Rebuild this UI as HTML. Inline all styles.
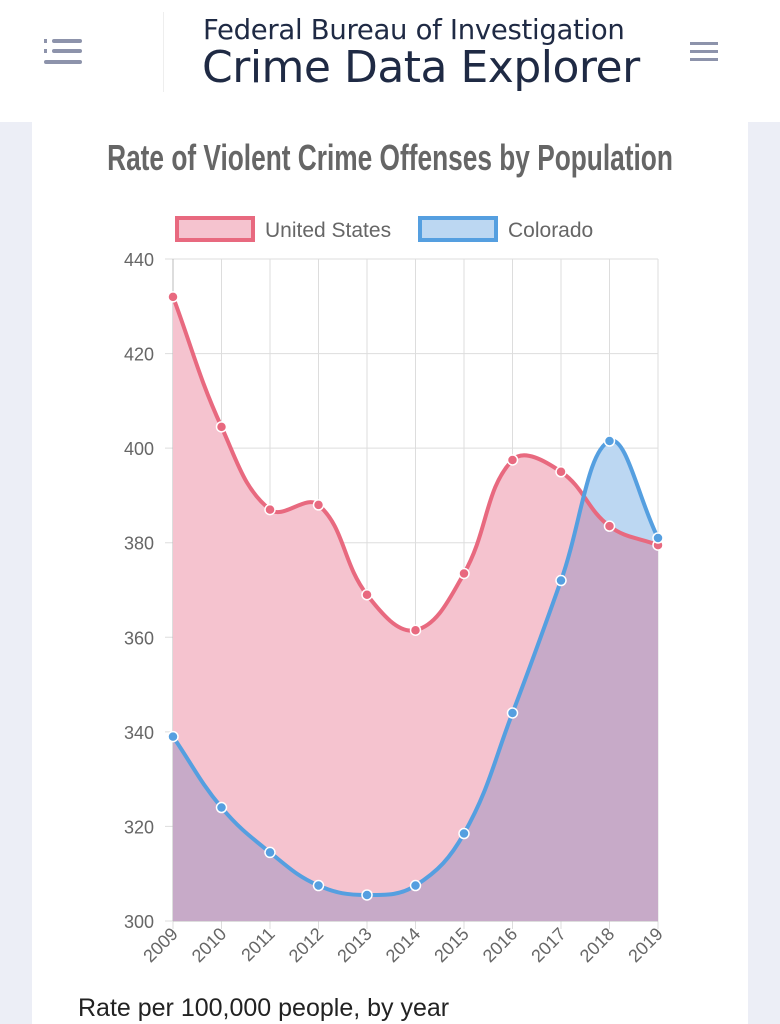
<!DOCTYPE html>
<html><head><meta charset="utf-8"><style>
body{margin:0;width:780px;height:1024px;background:#eceef6;font-family:"Liberation Sans",sans-serif;overflow:hidden;position:relative}
#hdr{position:absolute;left:0;top:0;width:780px;height:122px;background:#fff}
#card{position:absolute;left:32px;top:122px;width:716px;height:902px;background:#fff}
.t1{position:absolute;left:203px;top:14px;font-size:27.5px;color:#1f2a44;font-family:"DejaVu Sans",sans-serif;letter-spacing:-0.3px}
.t2{position:absolute;left:202px;top:42px;font-size:44px;color:#1f2a44;font-family:"DejaVu Sans",sans-serif;letter-spacing:-0.5px}
</style></head><body>
<div id="hdr">
<svg style="position:absolute;left:40px;top:36px" width="50" height="32"><g fill="#8d93ab"><rect x="4" y="3" width="3" height="4"/><rect x="12" y="3" width="30" height="4" rx="2"/><rect x="4" y="13" width="3" height="4"/><rect x="12" y="13" width="30" height="4" rx="2"/><rect x="4" y="24" width="38" height="4" rx="2"/></g></svg>
<div style="position:absolute;left:163px;top:12px;width:1px;height:80px;background:#eee"></div>
<div class="t1">Federal Bureau of Investigation</div>
<div class="t2">Crime Data Explorer</div>
<svg style="position:absolute;left:688px;top:40px" width="34" height="24"><g fill="#8d93ab"><rect x="2" y="2" width="28" height="3"/><rect x="2" y="10" width="28" height="3"/><rect x="2" y="18" width="28" height="3"/></g></svg>
</div>
<div id="card"></div>
<svg id="chart" width="780" height="1024" style="position:absolute;left:0;top:0"></svg>
<div style="position:absolute;left:78px;top:994px;font-size:25px;color:#222">Rate per 100,000 people, by year</div>
<script>
const years=["2009","2010","2011","2012","2013","2014","2015","2016","2017","2018","2019"];
const usValues=[432,404.5,387,388,369,361.5,373.5,397.5,395,383.5,379.5];
const coValues=[339,324,314.5,307.5,305.5,307.5,318.5,344,372,401.5,381];
const yTicks=[300,320,340,360,380,400,420,440];
const NS="http://www.w3.org/2000/svg";
const svg=document.getElementById('chart');
const L=173,R=658,T=259,B=921,yMin=300,yMax=440;
const xs=i=>L+(R-L)*i/(years.length-1);
const ys=v=>B-(v-yMin)/(yMax-yMin)*(B-T);
function mk(tag,attrs,parent){const e=document.createElementNS(NS,tag);for(const k in attrs)e.setAttribute(k,attrs[k]);(parent||svg).appendChild(e);return e;}
let tt=mk('text',{x:390,y:170,'text-anchor':'middle','font-size':36,'font-weight':'bold',fill:'#666',transform:'translate(390,0) scale(0.73,1) translate(-390,0)'});


tt.textContent='Rate of Violent Crime Offenses by Population';
const leg=[["United States","#e8697f","#f5c3cf",177,265],["Colorado","#559fe0","#bcd7f2",420,508]];
leg.forEach(l=>{const g=mk('g',{});


mk('rect',{x:l[3],y:218,width:76,height:22,fill:l[2],stroke:l[1],'stroke-width':4},g);
const t=mk('text',{x:l[4],y:237,'font-size':21,fill:'#666'},g);t.textContent=l[0];});
yTicks.forEach(v=>{const y=ys(v);
const ln=mk('line',{x1:165,x2:R,y1:y,y2:y,stroke:'#ddd','stroke-width':1});


const t=mk('text',{x:154,y:y+7,'text-anchor':'end','font-size':18,fill:'#666'});


t.textContent=v;});
years.forEach((yr,i)=>{const x=xs(i);
const ln=mk('line',{x1:x,x2:x,y1:T,y2:B+8,stroke:'#ddd','stroke-width':1});


const t=mk('text',{x:x+6,y:B+14,'text-anchor':'end','font-size':18,fill:'#666',transform:`rotate(-45 ${x+6} ${B+14})`});


t.textContent=yr;});
mk('line',{x1:L,x2:L,y1:T,y2:B,stroke:'#bbb'});
mk('line',{x1:L,x2:R,y1:B,y2:B,stroke:'#bbb'});
function curve(vals){const p=vals.map((v,i)=>[xs(i),ys(v)]);const t=0.4;let d=`M${p[0][0]},${p[0][1]}`;
const cps=p.map((c,i)=>{const a=p[Math.max(0,i-1)],b=p[Math.min(p.length-1,i+1)];
const d01=Math.hypot(c[0]-a[0],c[1]-a[1]),d12=Math.hypot(b[0]-c[0],b[1]-c[1]);
let fa=d01/(d01+d12)||0,fb=d12/(d01+d12)||0;fa*=t;fb*=t;
return {p:[c[0]-fa*(b[0]-a[0]),c[1]-fa*(b[1]-a[1])],n:[c[0]+fb*(b[0]-a[0]),c[1]+fb*(b[1]-a[1])]};});
for(let i=1;i<p.length;i++){d+=` C${cps[i-1].n[0]},${cps[i-1].n[1]} ${cps[i].p[0]},${cps[i].p[1]} ${p[i][0]},${p[i][1]}`;}return d;}
const usC=curve(usValues),coC=curve(coValues);
const close=` L${R},${B} L${L},${B} Z`;
const defs=mk('defs',{});const cp=mk('clipPath',{id:'usclip'},defs);mk('path',{d:usC+close},cp);
let a=mk('path',{d:coC+close,fill:'#bcd7f2'});


a=mk('path',{d:usC+close,fill:'#f5c3cf'});


mk('path',{d:coC+close,fill:'#c7aac8','clip-path':'url(#usclip)'});
const series=[[usC,usValues,'#e8697f','us'],[coC,coValues,'#559fe0','colorado']];
series.forEach(s=>{const l=mk('path',{d:s[0],fill:'none',stroke:s[2],'stroke-width':4});


s[1].forEach((v,i)=>{const c=mk('circle',{cx:xs(i),cy:ys(v),r:5,fill:s[2],stroke:'#fff','stroke-width':1.5});

});});
</script>
</body></html>
